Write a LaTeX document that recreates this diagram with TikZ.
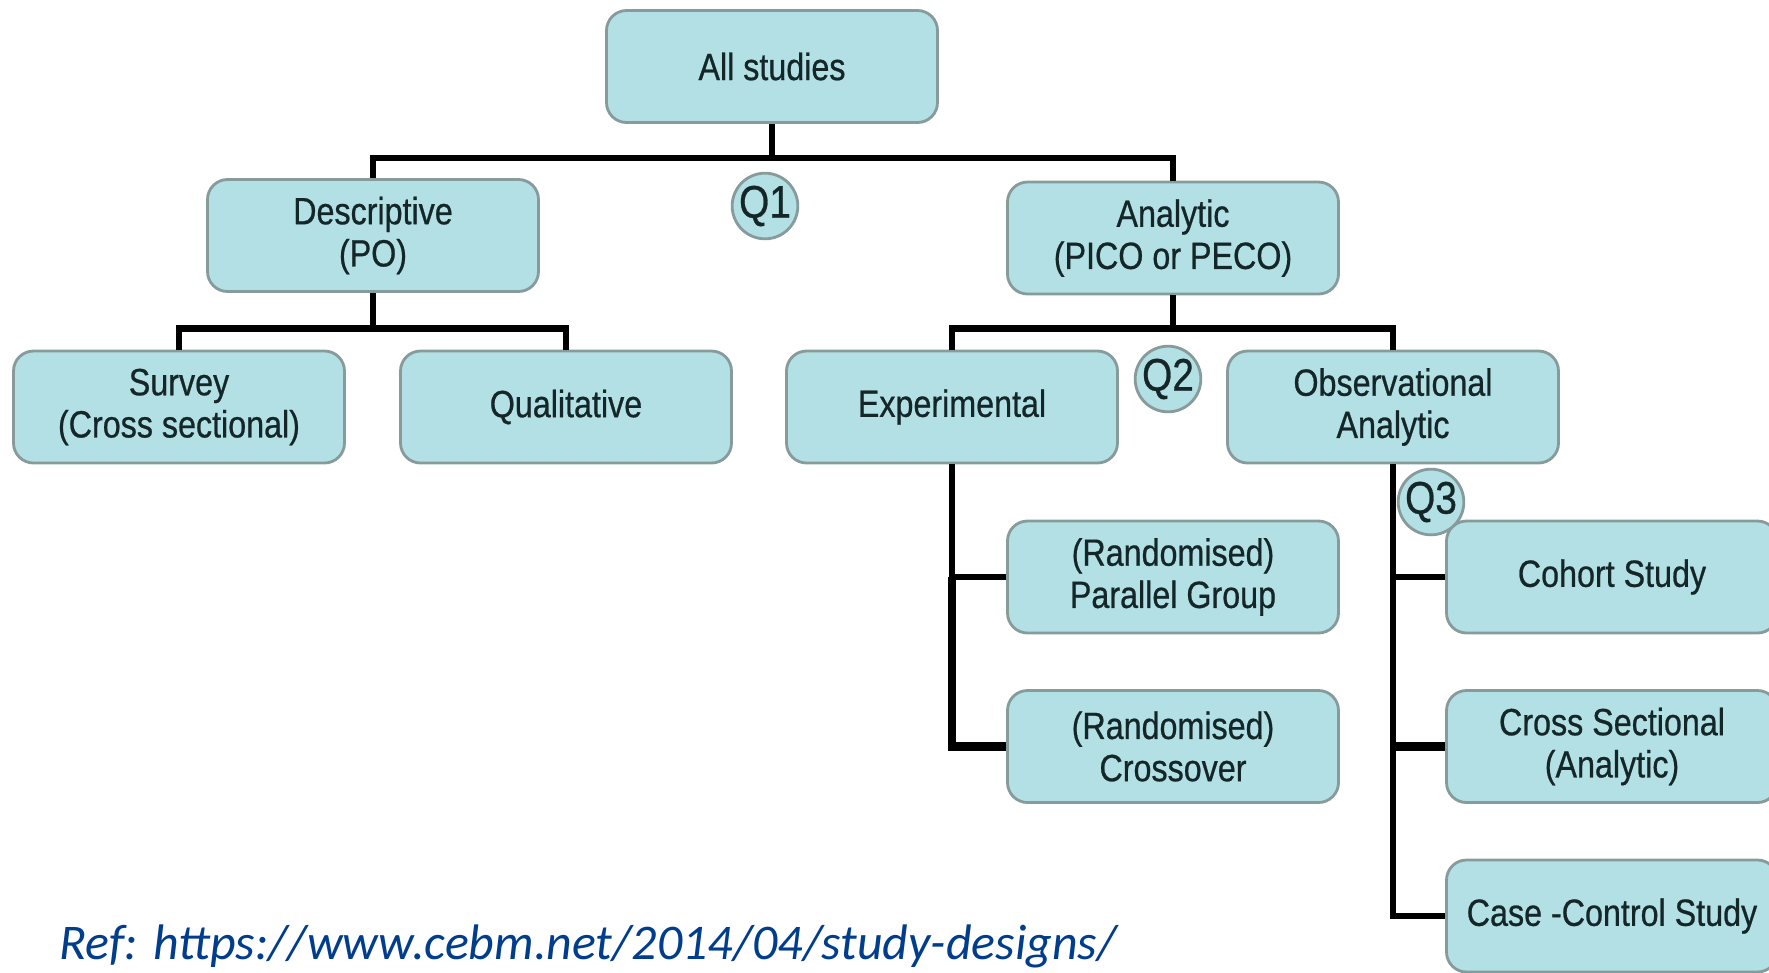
\documentclass[tikz,border=0pt]{standalone}
\usepackage{fontspec}
\setmainfont{Liberation Sans}
\newfontfamily\boxfont[FakeStretch=0.85, FakeBold=0.6]{Liberation Sans}
\newfontfamily\reffont{Carlito}
\definecolor{boxfill}{RGB}{178,224,228}
\definecolor{boxline}{RGB}{135,155,155}
\definecolor{boxtext}{RGB}{20,38,40}
\definecolor{refblue}{RGB}{0,61,140}
\begin{document}
\begin{tikzpicture}[
  every node/.style={font=\boxfont\fontsize{10.8}{12}\selectfont, text=boxtext},
  box/.style={draw=boxline, fill=boxfill, line width=0.8pt, rounded corners=0.2cm,
    minimum width=3.31cm, minimum height=1.12cm, align=center},
  qmark/.style={circle, draw=boxline, fill=boxfill, line width=0.8pt, inner sep=0pt,
    minimum size=0.6cm, font=\boxfont\fontsize{13}{13}\selectfont},
  link/.style={line width=1.8pt, black},
  heavy/.style={line width=2.4pt, black}]
  \clip (0,0) rectangle (17.69,-9.72);
  % Top levels
  \node[box] (all) at (7.72,-0.665) {All studies};
  \node[box] (desc) at (3.73,-2.355) {Descriptive\\(PO)};
  \node[box] (anal) at (11.73,-2.38) {Analytic\\(PICO or PECO)};
  % Second level
  \node[box] (survey) at (1.79,-4.07) {Survey\\(Cross sectional)};
  \node[box] (qual) at (5.66,-4.07) {Qualitative};
  \node[box] (exp) at (9.52,-4.07) {Experimental};
  \node[box] (obs) at (13.93,-4.07) {Observational\\Analytic};
  % Experimental designs
  \node[box] (par) at (11.73,-5.77) {(Randomised)\\Parallel Group};
  \node[box] (cross) at (11.73,-7.465) {(Randomised)\\Crossover};
  % Observational designs
  \node[box] (cohort) at (16.12,-5.77) {Cohort Study};
  \node[box] (cs) at (16.12,-7.465) {Cross Sectional\\(Analytic)};
  \node[box] (cc) at (16.12,-9.16) {Case -Control Study};
  % Questions
  \node[qmark] (q1) at (7.65,-2.06) {Q1};
  \node[qmark] (q2) at (11.68,-3.79) {Q2};
  \node[qmark] (q3) at (14.31,-5.02) {Q3};
  % Tree links
  \draw[link] (all.south) -- ++(0,-0.34) coordinate (j1);
  \draw[link] (desc.north) |- (j1) -| (anal.north);
  \draw[link] (desc.south) -- ++(0,-0.355) coordinate (j2);
  \draw[link] (survey.north) |- (j2) -| (qual.north);
  \draw[link] (anal.south) -- ++(0,-0.33) coordinate (j3);
  \draw[link] (exp.north) |- (j3) -| (obs.north);
  \draw[link] (exp.south) |- (par.west);
  \draw[heavy] (exp.south |- par.west) |- (cross.west);
  \draw[link] (obs.south) |- (cohort.west);
  \draw[link] (obs.south) |- (cc.west);
  \draw[heavy] (obs.south |- cs.west) -- (cs.west);
  % Reference
  \node[anchor=base west, inner sep=0pt, text=refblue,
    font=\reffont\itshape\fontsize{14.2}{16}\selectfont] (ref) at (0.59,-9.59)
    {Ref: https://www.cebm.net/2014/04/study-designs/};
\end{tikzpicture}
\end{document}
